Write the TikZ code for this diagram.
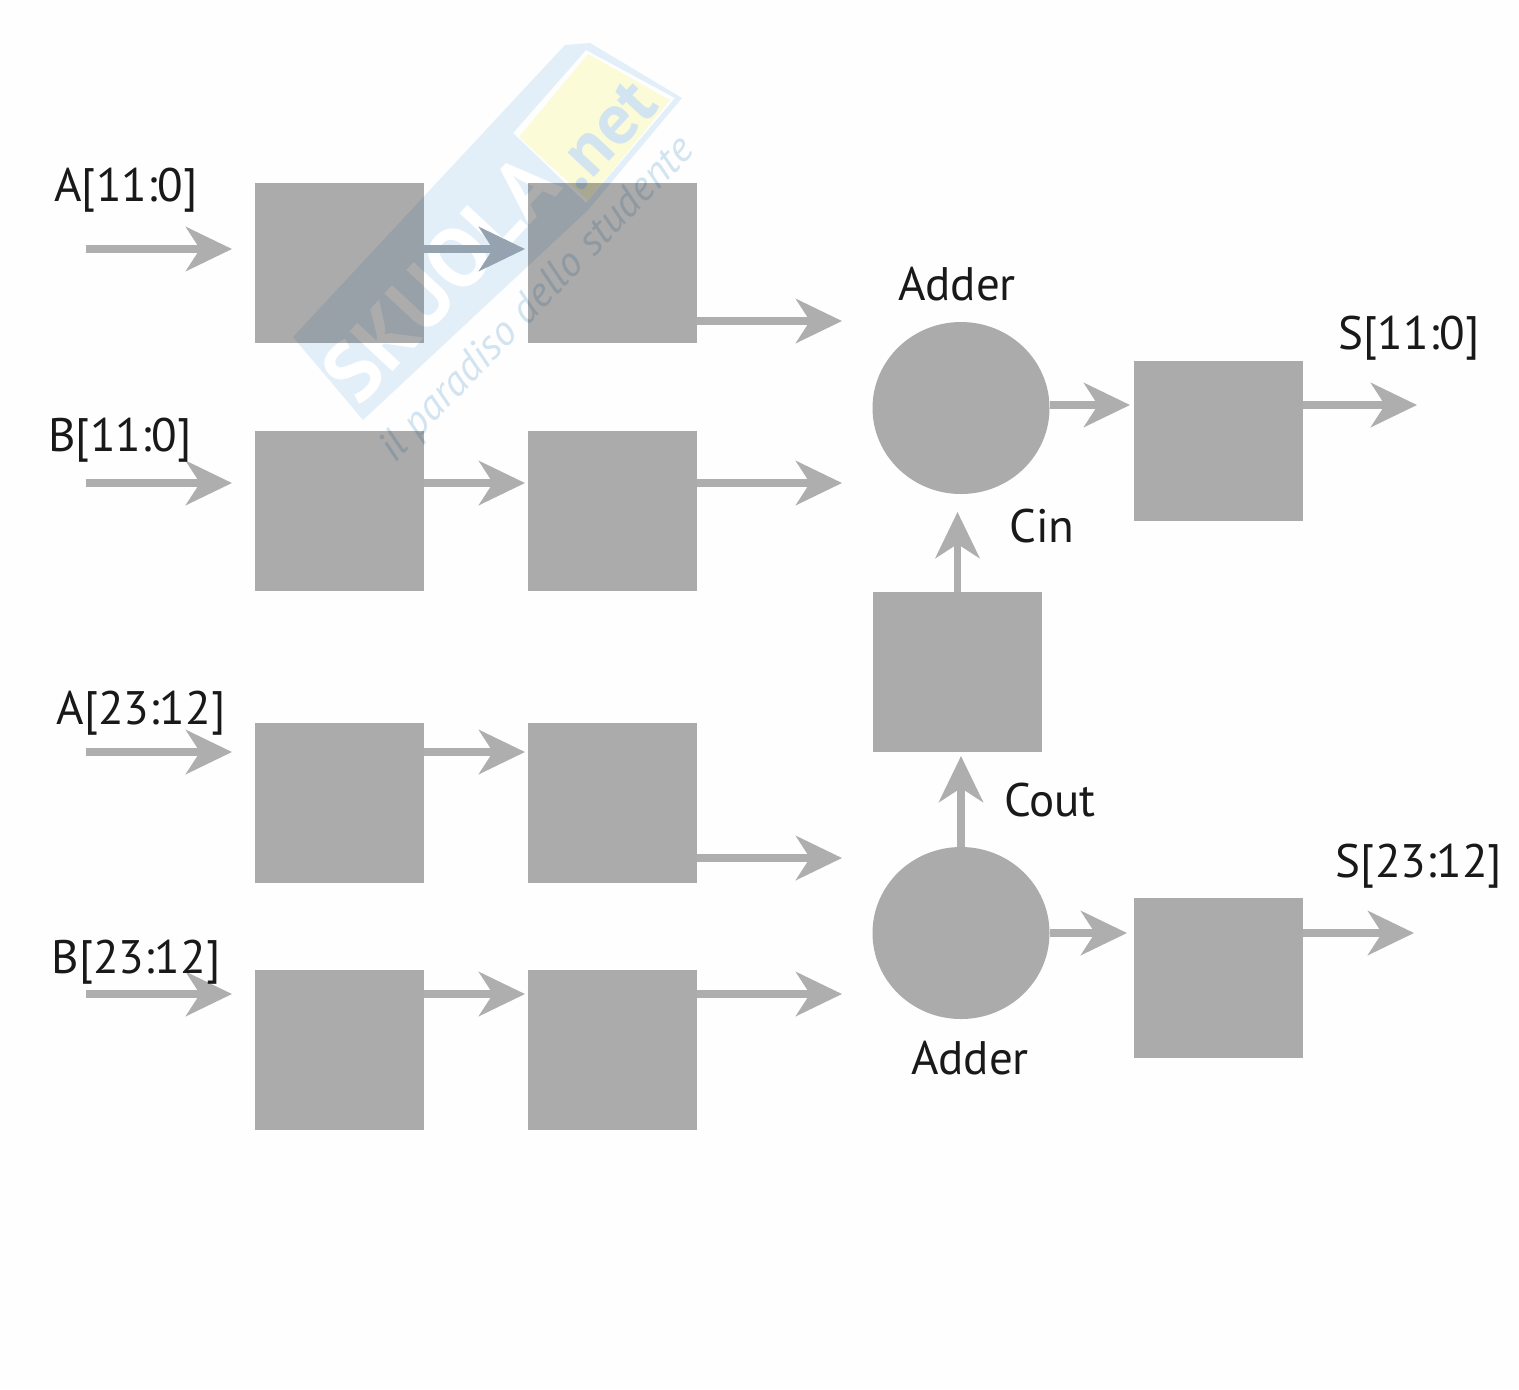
\documentclass[tikz,border=0pt]{standalone}
\usepackage{fontspec}
\setmainfont{PT Sans}
\usetikzlibrary{arrows.meta}
\usetikzlibrary{positioning}
\usetikzlibrary{shapes.geometric}
\definecolor{blockgray}{HTML}{ACACAC}
\definecolor{wiregray}{HTML}{AEAEAE}
\definecolor{wiretint}{HTML}{94A3AF}
\definecolor{markblue}{HTML}{E2EFF8}
\definecolor{marktext}{HTML}{D3E4F1}
\definecolor{markyellow}{HTML}{FBFBD8}
\tikzset{x=0.5pt,y=-0.5pt,
    node distance=44pt and 52pt,
    block/.style={
        fill=blockgray,
        inner sep=0pt,
        outer sep=0pt,
        minimum width=84.5pt,
        minimum height=80pt},
    adder/.style={
        ellipse,
        fill=blockgray,
        inner sep=0pt,
        outer sep=0pt,
        minimum width=88.5pt,
        minimum height=86pt},
    wire/.style={
        draw=wiregray,
        line width=3.8pt,
        -{Stealth[length=23pt,width=22pt,inset=7pt]}},
    label/.style={
        font=\fontsize{23.5}{27}\selectfont,
        text=black!90,
        inner sep=0pt},
    markbig/.style={
        font=\bfseries\fontsize{42}{42}\selectfont,
        text=white,
        inner sep=0pt,
        rotate=47},
    marknote/.style={
        font=\bfseries\fontsize{36}{36}\selectfont,
        text=marktext,
        inner sep=0pt,
        rotate=47},
    marksmall/.style={
        font=\itshape\fontsize{21}{21}\selectfont,
        text=marktext,
        inner sep=0pt,
        rotate=46}}
\begin{document}
\begin{tikzpicture}
    \useasboundingbox[fill=white!99.5!black] (0,0) rectangle (1519,1389);
    % mark under the blocks
    \fill[markblue,even odd rule] (293,337) -- (565,45) -- (590,43) -- (682,98) -- (588,210) -- (363,420) -- cycle
        (513,133) -- (586,50) -- (675,98) -- (586,203) -- cycle;
    \fill[markyellow] (519,137) -- (588,54) -- (670,100) -- (588,200) -- cycle;
    \node[markbig] (markname) at (440,278) {SKUOLA};
    \node[marknote] (marknet) at (604,135) {.net};
    \node[marksmall] (markline) at (538,300) {il paradiso dello studente};

    \begin{scope}[blend mode=multiply]
        \node[block,anchor=north west] (a1) at (255,183) {};
        \node[block,right=of a1] (a2) {};
        \node[block,below=of a1] (b1) {};
        \node[block,right=of b1] (b2) {};
        \node[block,below=66pt of b1] (c1) {};
        \node[block,right=of c1] (c2) {};
        \node[block,below=43.5pt of c1] (d1) {};
        \node[block,right=of d1] (d2) {};

        \node[adder] (add1) at (961,408) {};
        \node[adder] (add2) at (961,933) {};
        \node[block,anchor=north west] (carry) at (873,592) {};
        \node[block,anchor=north west] (s1) at (1134,361) {};
        \node[block,anchor=north west] (s2) at (1134,898) {};
    \end{scope}

    \coordinate (ina) at (86,249);
    \coordinate (inb) at (86,483);
    \coordinate (inc) at (86,752);
    \coordinate (ind) at (86,994);
    \coordinate (outa) at (842,321);
    \coordinate (outb) at (842,483);
    \coordinate (outc) at (842,858);
    \coordinate (outd) at (842,994);
    \coordinate (outs1) at (1417,405);
    \coordinate (outs2) at (1414,933);

    \draw[wire,shorten >=11.5pt] (ina) -- (ina -| a1.west);
    \draw[wire,shorten >=11.5pt] (inb) -- (inb -| b1.west);
    \draw[wire,shorten >=11.5pt] (inc) -- (inc -| c1.west);
    \draw[wire,shorten >=11.5pt] (ind) -- (ind -| d1.west);
    \draw[wire,draw=wiretint,shorten >=1.5pt] (ina -| a1.east) -- (ina -| a2.west);
    \draw[wire,shorten >=1.5pt] (inb -| b1.east) -- (inb -| b2.west);
    \draw[wire,shorten >=1.5pt] (inc -| c1.east) -- (inc -| c2.west);
    \draw[wire,shorten >=1.5pt] (ind -| d1.east) -- (ind -| d2.west);
    \draw[wire] (outa -| a2.east) -- (outa);
    \draw[wire] (outb -| b2.east) -- (outb);
    \draw[wire] (outc -| c2.east) -- (outc);
    \draw[wire] (outd -| d2.east) -- (outd);

    \draw[wire,shorten >=2pt] (add1.east |- outs1) -- (outs1 -| s1.west);
    \draw[wire,shorten >=3.5pt] (add2.east |- outs2) -- (outs2 -| s2.west);
    \draw[wire] (outs1 -| s1.east) -- (outs1);
    \draw[wire] (outs2 -| s2.east) -- (outs2);
    \draw[wire,shorten >=9pt] (carry.north) -- (carry.north |- add1.south);
    \draw[wire,shorten >=2pt] (add2.north) -- (add2.north |- carry.south);

    \node[label] (la) at (126,190) {A[11:0]};
    \node[label] (lb) at (120,440) {B[11:0]};
    \node[label] (lc) at (141,713) {A[23:12]};
    \node[label] (ld) at (136,962) {B[23:12]};
    \node[label] (ladd1) at (957,284) {Adder};
    \node[label] (ladd2) at (970,1058) {Adder};
    \node[label] (lcin) at (1042,526) {Cin};
    \node[label] (lcout) at (1050,800) {Cout};
    \node[label] (ls1) at (1409,338) {S[11:0]};
    \node[label] (ls2) at (1419,866) {S[23:12]};
\end{tikzpicture}
\end{document}
